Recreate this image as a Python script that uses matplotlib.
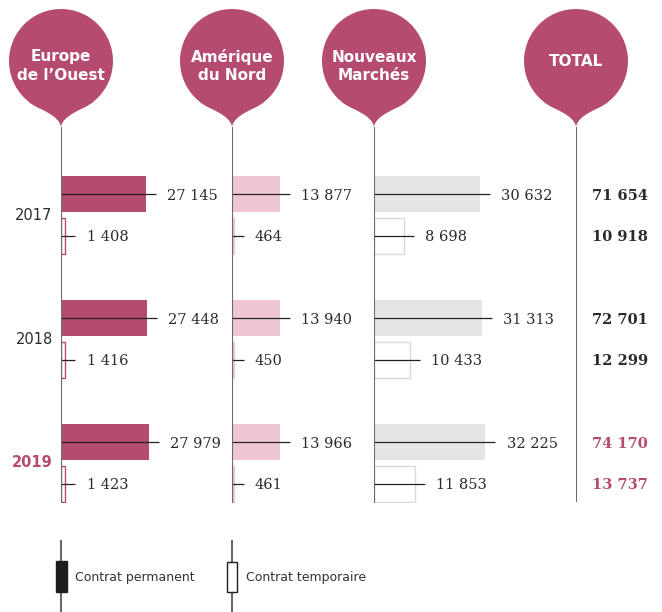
import matplotlib
matplotlib.use("Agg")
import matplotlib.pyplot as plt
from matplotlib.patches import Circle, PathPatch, Rectangle
from matplotlib.path import Path
import math

# ---------------- data ----------------
years = ["2017", "2018", "2019"]
regions = ["Europe\nde l\u2019Ouest", "Am\u00e9rique\ndu Nord", "Nouveaux\nMarch\u00e9s", "TOTAL"]
europe_perm = [27145, 27448, 27979]
europe_temp = [1408, 1416, 1423]
amerique_perm = [13877, 13940, 13966]
amerique_temp = [464, 450, 461]
nouveaux_perm = [30632, 31313, 32225]
nouveaux_temp = [8698, 10433, 11853]
total_perm = [71654, 72701, 74170]
total_temp = [10918, 12299, 13737]
legend_labels = ["Contrat permanent", "Contrat temporaire"]

# ---------------- style / layout ----------------
W, H = 662, 612
PINK = "#b64b72"
LIGHT_PINK = "#efc7d3"
GREY = "#e5e5e7"
GREY_EDGE = "#d9d9d9"
AXIS = "#6a6a6a"
TXT = "#2b2b2b"
col_x = [61, 232, 374, 576]          # pixel x of each column line
col_w = [171, 142, 202]               # pixel widths of bar areas
px_per_unit = [0.00313, 0.00346, 0.00346]
top_px, bot_px = 127, 503
row_px0, row_unit = 194.5, 41.3
bar_h = 36 / row_unit
serif = "DejaVu Serif"
sans = "DejaVu Sans"


def fmt(v):
    return f"{v:,}".replace(",", " ")


fig = plt.figure(figsize=(W / 100, H / 100), dpi=100)

# overlay axes in pixel coords for pins and legend keys
ov = fig.add_axes([0, 0, 1, 1], zorder=0)
ov.set_xlim(0, W)
ov.set_ylim(H, 0)
ov.axis("off")

ylim = ((bot_px - row_px0) / row_unit, (top_px - row_px0) / row_unit)

perm_sets = [europe_perm, amerique_perm, nouveaux_perm]
temp_sets = [europe_temp, amerique_temp, nouveaux_temp]
perm_colors = [PINK, LIGHT_PINK, GREY]
temp_face = ["white", LIGHT_PINK, "white"]
temp_edge = [PINK, LIGHT_PINK, GREY_EDGE]

perm_pos = [3 * i for i in range(len(years))]
temp_pos = [3 * i + 1 for i in range(len(years))]

for c in range(3):
    ax = fig.add_axes([col_x[c] / W, 1 - bot_px / H, col_w[c] / W, (bot_px - top_px) / H], zorder=2)
    xmax = col_w[c] / px_per_unit[c]
    ax.set_xlim(0, xmax)
    ax.set_ylim(*ylim)
    ax.axis("off")
    ax.patch.set_alpha(0)
    d = 10 / px_per_unit[c]
    ax.barh(perm_pos, perm_sets[c], height=bar_h, color=perm_colors[c], zorder=1)
    ax.barh(temp_pos, temp_sets[c], height=bar_h, color=temp_face[c],
            edgecolor=temp_edge[c], linewidth=1.0, zorder=1)
    for vals, pos in ((perm_sets[c], perm_pos), (temp_sets[c], temp_pos)):
        for v, y in zip(vals, pos):
            ax.plot([0, v + d], [y, y], color="#222222", lw=0.9, zorder=3, solid_capstyle="butt")
            ax.annotate(fmt(v), xy=(v + d, y), xytext=(8, 0), textcoords="offset points",
                        ha="left", va="center_baseline", fontsize=10.5, family=serif, color=TXT)
    ax.axvline(0, color=AXIS, lw=1.5, zorder=4)
    if c == 0:
        for i, yr in enumerate(years):
            last = i == len(years) - 1
            ax.annotate(yr, xy=(0, 3 * i + 0.5), xycoords=("axes fraction", "data"),
                        xytext=(-6, 0), textcoords="offset points", ha="right", va="center",
                        fontsize=10.5, family=sans, color=PINK if last else TXT,
                        fontweight="bold" if last else "normal")

# total column
axt = fig.add_axes([col_x[3] / W, 1 - bot_px / H, 75 / W, (bot_px - top_px) / H], zorder=2)
axt.set_xlim(0, 1)
axt.set_ylim(*ylim)
axt.axis("off")
axt.patch.set_alpha(0)
axt.axvline(0, color=AXIS, lw=1.5, ymin=0.005)
for i in range(len(years)):
    last = i == len(years) - 1
    for v, y in ((total_perm[i], perm_pos[i]), (total_temp[i], temp_pos[i])):
        axt.text(0.955, y, fmt(v), ha="right", va="center_baseline", fontsize=10.5,
                 family=serif, fontweight="bold", color=PINK if last else TXT)

# pins
cy, r, tip = 61, 52, 127
phi = math.radians(38)
for cx, label in zip(col_x, regions):
    ov.add_patch(Circle((cx, cy), r, color=PINK, lw=0))
    lx, ly = cx - r * math.sin(phi), cy + r * math.cos(phi)
    rx = cx + r * math.sin(phi)
    c1 = (lx + 11 * math.cos(phi), ly + 11 * math.sin(phi))
    c2 = (cx - 1.5, tip - 12)
    verts = [(lx, ly), c1, c2, (cx, tip), (2 * cx - c2[0], c2[1]), (2 * cx - c1[0], c1[1]), (rx, ly), (lx, ly)]
    codes = [Path.MOVETO, Path.CURVE4, Path.CURVE4, Path.CURVE4, Path.CURVE4, Path.CURVE4, Path.CURVE4, Path.CLOSEPOLY]
    ov.add_patch(PathPatch(Path(verts, codes), color=PINK, lw=0))
    ty = 62 if "\n" not in label else 66
    ov.text(cx, ty, label, ha="center", va="center", color="white", fontsize=11,
            fontweight="bold", family=sans, linespacing=1.25)

# legend keys
for k, (lx, lab) in enumerate(zip(col_x[:2], legend_labels)):
    ov.plot([lx, lx], [541, H], color=AXIS, lw=1.5, zorder=1)
    if k == 0:
        ov.add_patch(Rectangle((lx - 5.5, 561), 11, 31, facecolor="#1e1e1e", edgecolor="#1e1e1e", lw=1, zorder=2))
    else:
        ov.add_patch(Rectangle((lx - 5, 562), 10, 30, facecolor="white", edgecolor="#1e1e1e", lw=1, zorder=2))
    ov.text(lx + 14, 578, lab, ha="left", va="center", fontsize=9, family=sans, color="#333333")

fig.savefig("out.png", dpi=100)
